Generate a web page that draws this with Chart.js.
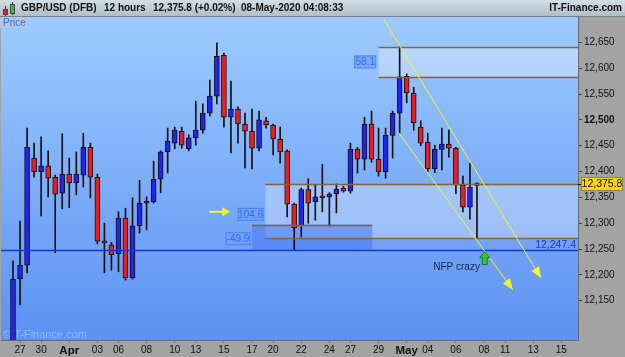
<!DOCTYPE html>
<html lang="en">
<head>
    <meta charset="UTF-8" />
    <title>GBP/USD (DFB) 12 hours</title>
    <style>
        html, body { margin: 0; padding: 0; background: #a3a3a3; }
        .wrap { position: relative; width: 625px; height: 357px; overflow: hidden; font-family: "Liberation Sans", Arial, sans-serif; }
        canvas { position: absolute; left: 0; top: 0; }
        .header { position: absolute; left: 0; top: 0; width: 625px; height: 17px; box-sizing: border-box;
                  background: linear-gradient(#d2dde4, #aebfca); border-bottom: 1px solid #70838f;
                  font-weight: bold; font-size: 10px; color: #111; }
        .header span { position: absolute; top: 2px; white-space: nowrap; }
        .icon div { position: absolute; }
        .tab { position: absolute; left: 0; top: 17px; width: 27px; height: 11px; box-sizing: border-box;
               background: #b4c9dd; color: #3a6be2; font-size: 10px; line-height: 11px; padding-left: 3px; }
    </style>
</head>
<body>
<div class="wrap">
    <canvas id="chart" width="625" height="357"></canvas>
    <div class="header">
        <div class="icon">
            <div style="left:5px;top:6px;width:1px;height:10px;background:#333"></div>
            <div style="left:3px;top:9px;width:5px;height:6px;background:#e02020;border:1px solid #444;box-sizing:border-box"></div>
            <div style="left:12px;top:2px;width:1px;height:13px;background:#333"></div>
            <div style="left:10px;top:4px;width:5px;height:10px;background:#22cc22;border:1px solid #444;box-sizing:border-box"></div>
        </div>
        <span style="left:21px">GBP/USD (DFB)</span>
        <span style="left:104px">12 hours</span>
        <span style="left:153px">12,375.8 (+0.02%)</span>
        <span style="left:241px">08-May-2020 04:08:33</span>
        <span style="right:3px">IT-Finance.com</span>
    </div>
    <div class="tab">Price</div>
</div>

<script src="https://cdn.jsdelivr.net/npm/chart.js@4.4.1/dist/chart.umd.min.js"></script>
<script>
    // 12 hour candles, one per index (26 Mar .. 08 May 2020)
    const open  = [12040, 12192, 12219, 12426, 12399, 12411, 12389, 12358, 12395, 12378,
                   12393, 12447, 12389, 12265, 12258, 12241, 12310, 12194, 12295, 12339,
                   12341, 12385, 12438, 12455, 12478, 12444, 12465, 12480, 12513, 12546,
                   12625, 12505, 12521, 12492, 12478, 12445, 12498, 12490, 12463, 12440,
                   12337, 12295, 12365, 12341, 12351, 12351, 12357, 12368, 12362, 12443,
                   12424, 12492, 12424, 12399, 12470, 12513, 12584, 12552, 12486, 12457,
                   12405, 12443, 12453, 12445, 12374, 12331, 12373];
    const high  = [12227, 12304, 12484, 12455, 12467, 12440, 12393, 12473, 12426, 12438,
                   12474, 12455, 12395, 12300, 12263, 12322, 12329, 12349, 12383, 12351,
                   12420, 12440, 12484, 12486, 12486, 12471, 12536, 12531, 12577, 12649,
                   12629, 12575, 12525, 12513, 12521, 12517, 12505, 12492, 12486, 12442,
                   12339, 12368, 12386, 12374, 12414, 12359, 12376, 12372, 12455, 12447,
                   12505, 12517, 12484, 12484, 12517, 12641.5, 12589, 12563, 12498, 12474,
                   12451, 12484, 12480, 12447, 12391, 12416, 12378];
    const low   = [12020, 12142, 12204, 12389, 12314, 12351, 12243, 12328, 12330, 12355,
                   12370, 12349, 12260, 12204, 12209, 12206, 12190, 12192, 12281, 12287,
                   12339, 12359, 12397, 12444, 12445, 12440, 12451, 12474, 12507, 12531,
                   12486, 12436, 12455, 12407, 12405, 12440, 12484, 12432, 12416, 12312,
                   12247.4, 12273, 12300, 12306, 12322, 12295, 12320, 12360, 12358, 12397,
                   12403, 12418, 12391, 12387, 12426, 12474, 12533, 12480, 12450, 12400,
                   12398, 12403, 12428, 12357, 12322, 12308, 12271.2];
    const close = [12192, 12219, 12447, 12399, 12411, 12387, 12356, 12395, 12378, 12395,
                   12447, 12389, 12265, 12262, 12239, 12310, 12194, 12295, 12339, 12341,
                   12385, 12438, 12459, 12480, 12451, 12465, 12480, 12513, 12546, 12623,
                   12505, 12521, 12492, 12478, 12445, 12500, 12490, 12463, 12438, 12337,
                   12291, 12365, 12339, 12351, 12349, 12357, 12366, 12362, 12443, 12424,
                   12492, 12424, 12399, 12470, 12513, 12583.4, 12552, 12494, 12455, 12405,
                   12443, 12453, 12445, 12374, 12331, 12370, 12375.8];

    const xTickPos    = [1, 4, 8, 12, 15, 19, 23, 26, 30, 34, 37, 41, 45, 48, 52, 56, 59, 63, 67, 70, 74, 78];
    const xTickLabels = ['27', '30', 'Apr', '03', '06', '08', '10', '13', '15', '17', '20',
                         '22', '24', '27', '29', 'May', '04', '06', '08', '11', '13', '15'];
    const yTicks = [12150, 12200, 12250, 12300, 12350, 12400, 12450, 12500, 12550, 12600, 12650];

    // drawn levels
    const lastPrice = 12375.8;
    const nfpLow = 12247.4;
    const lastLow = 12271.2;
    const topHigh = 12641.5;
    const topClose = 12583.4;
    const box2Top = 12297.3;

    const FONT = '"Liberation Sans", Arial, sans-serif';

    function fmt(v) {
        const s = v.toFixed(v % 1 ? 1 : 0);
        const [int, dec] = s.split('.');
        const t = int.slice(0, -3) + ',' + int.slice(-3);
        return dec ? t + '.' + dec : t;
    }

    function arrowHead(ctx, x1, y1, x2, y2, len, wid) {
        const dx = x2 - x1, dy = y2 - y1, d = Math.hypot(dx, dy);
        const ux = dx / d, uy = dy / d;
        const bx = x2 - ux * len, by = y2 - uy * len;
        ctx.beginPath();
        ctx.moveTo(x2, y2);
        ctx.lineTo(bx - uy * wid / 2, by + ux * wid / 2);
        ctx.lineTo(bx + uy * wid / 2, by - ux * wid / 2);
        ctx.closePath();
        ctx.fill();
    }

    function valueBox(ctx, text, cx, cy, w) {
        ctx.fillStyle = 'rgba(110,160,255,0.75)';
        ctx.strokeStyle = '#4f82ee';
        ctx.lineWidth = 1;
        ctx.fillRect(cx - w / 2, cy - 6.5, w, 13);
        ctx.strokeRect(cx - w / 2 + 0.5, cy - 6, w - 1, 12);
        ctx.fillStyle = '#3a6be6';
        ctx.font = '10px ' + FONT;
        ctx.textAlign = 'center';
        ctx.textBaseline = 'middle';
        ctx.fillText(text, cx, cy + 0.5);
    }

    const drawings = {
        id: 'drawings',
        beforeDraw(chart) {
            const { ctx, chartArea: a } = chart;
            ctx.save();
            ctx.fillStyle = '#a3a3a3';
            ctx.fillRect(0, 0, chart.width, chart.height);
            const g = ctx.createLinearGradient(0, a.top, 0, a.bottom);
            g.addColorStop(0, '#9dcbff');
            g.addColorStop(1, '#5d91f2');
            ctx.fillStyle = g;
            ctx.fillRect(a.left, a.top, a.right - a.left, a.bottom - a.top);
            ctx.restore();
        },
        beforeDatasetsDraw(chart) {
            const { ctx, chartArea: a, scales: { x, y } } = chart;
            ctx.save();
            // watermark
            ctx.fillStyle = 'rgba(150,190,255,0.85)';
            ctx.font = '11px ' + FONT;
            ctx.textBaseline = 'alphabetic';
            ctx.fillText('\u00a9IT-Finance.com', 3, a.bottom - 2);
            // boxes
            ctx.fillStyle = 'rgba(255,255,255,0.3)';
            ctx.fillRect(x.getPixelForValue(52), y.getPixelForValue(topHigh),
                a.right - x.getPixelForValue(52), y.getPixelForValue(topClose) - y.getPixelForValue(topHigh));
            ctx.fillRect(x.getPixelForValue(35.9), y.getPixelForValue(lastPrice),
                a.right - x.getPixelForValue(35.9), y.getPixelForValue(lastLow) - y.getPixelForValue(lastPrice));
            ctx.fillStyle = 'rgba(70,115,245,0.5)';
            ctx.fillRect(x.getPixelForValue(34), y.getPixelForValue(box2Top),
                x.getPixelForValue(51.1) - x.getPixelForValue(34), y.getPixelForValue(nfpLow) - y.getPixelForValue(box2Top));
            ctx.restore();
        },
        afterDatasetsDraw(chart) {
            const { ctx, chartArea: a, scales: { x, y } } = chart;
            ctx.save();
            ctx.beginPath();
            ctx.rect(a.left, a.top, a.right - a.left, a.bottom - a.top);
            ctx.clip();

            // brown levels
            ctx.strokeStyle = '#86623f';
            ctx.lineWidth = 1.5;
            const hline = (from, to, v) => {
                const py = Math.round(y.getPixelForValue(v)) + 0.5;
                ctx.beginPath();
                ctx.moveTo(from, py);
                ctx.lineTo(to, py);
                ctx.stroke();
            };
            hline(x.getPixelForValue(52), a.right, topHigh);
            hline(x.getPixelForValue(52), a.right, topClose);
            hline(x.getPixelForValue(35.9), a.right, lastPrice);
            hline(x.getPixelForValue(35.9), a.right, lastLow);
            hline(x.getPixelForValue(34), x.getPixelForValue(51.1), box2Top);

            // blue low line
            ctx.strokeStyle = '#1636e4';
            hline(a.left, a.right, nfpLow);
            ctx.fillStyle = '#1636e4';
            ctx.font = '10.5px ' + FONT;
            ctx.textAlign = 'right';
            ctx.textBaseline = 'alphabetic';
            ctx.fillText(fmt(nfpLow), a.right - 2, y.getPixelForValue(nfpLow) - 2);

            // yellow trend lines
            ctx.strokeStyle = '#f4f42a';
            ctx.fillStyle = '#f4f42a';
            ctx.lineWidth = 1;
            const trend = [[52.8, 12693, 75.1, 12194], [54.8, 12476, 71.1, 12171]];
            trend.forEach(t => {
                const x1 = x.getPixelForValue(t[0]), y1 = y.getPixelForValue(t[1]);
                const x2 = x.getPixelForValue(t[2]), y2 = y.getPixelForValue(t[3]);
                ctx.beginPath();
                ctx.moveTo(x1, y1);
                ctx.lineTo(x2, y2);
                ctx.stroke();
                arrowHead(ctx, x1, y1, x2, y2, 11, 9);
            });

            // small yellow arrow
            const ay = y.getPixelForValue(12322);
            const ax1 = x.getPixelForValue(27.9), ax2 = x.getPixelForValue(30.9);
            ctx.lineWidth = 2;
            ctx.beginPath();
            ctx.moveTo(ax1, ay);
            ctx.lineTo(ax2 - 6, ay);
            ctx.stroke();
            arrowHead(ctx, ax1, ay, ax2, ay, 8, 9);

            // green up arrow
            const gx = x.getPixelForValue(67.1);
            const gt = y.getPixelForValue(12245), gb = y.getPixelForValue(12220);
            ctx.beginPath();
            ctx.moveTo(gx, gt);
            ctx.lineTo(gx + 5, gt + 6);
            ctx.lineTo(gx + 2.5, gt + 6);
            ctx.lineTo(gx + 2.5, gb);
            ctx.lineTo(gx - 2.5, gb);
            ctx.lineTo(gx - 2.5, gt + 6);
            ctx.lineTo(gx - 5, gt + 6);
            ctx.closePath();
            ctx.fillStyle = '#2ecb2e';
            ctx.fill();
            ctx.strokeStyle = '#167a16';
            ctx.lineWidth = 1;
            ctx.stroke();

            // note
            ctx.fillStyle = '#17254a';
            ctx.font = '10px ' + FONT;
            ctx.textAlign = 'center';
            ctx.textBaseline = 'middle';
            ctx.fillText('NFP crazy', x.getPixelForValue(63.1), y.getPixelForValue(12215));

            // range values
            valueBox(ctx, '58.1', x.getPixelForValue(50.1), y.getPixelForValue(12612), 22);
            valueBox(ctx, '104.6', x.getPixelForValue(33.8), y.getPixelForValue(12317), 26);
            valueBox(ctx, '-49.9', x.getPixelForValue(32), y.getPixelForValue(12270), 25);
            ctx.restore();
        },
        afterDraw(chart) {
            const { ctx, chartArea: a, scales: { y } } = chart;
            const py = Math.round(y.getPixelForValue(lastPrice));
            ctx.save();
            ctx.fillStyle = '#111';
            ctx.fillRect(a.right, py, 3, 1);
            ctx.fillStyle = '#ffd400';
            ctx.fillRect(a.right + 3, py - 7, 42, 14);
            ctx.strokeStyle = '#8a8560';
            ctx.lineWidth = 1;
            ctx.strokeRect(a.right + 3.5, py - 6.5, 41, 13);
            ctx.fillStyle = '#111';
            ctx.font = '10.5px ' + FONT;
            ctx.textAlign = 'center';
            ctx.textBaseline = 'middle';
            ctx.fillText(fmt(lastPrice), a.right + 24, py + 0.5);
            ctx.restore();
        }
    };

    const idx = open.map((_, i) => i);

    new Chart(document.getElementById('chart'), {
        type: 'bar',
        data: {
            datasets: [
                {
                    // bodies
                    data: idx.map(i => ({ x: i, y: [open[i], close[i]] })),
                    backgroundColor: idx.map(i => close[i] >= open[i] ? '#2323ee' : '#ee1d1d'),
                    borderColor: '#111',
                    borderWidth: 1,
                    borderSkipped: false,
                    barThickness: 5,
                    minBarLength: 2,
                    grouped: false,
                    order: 1
                },
                {
                    // wicks
                    data: idx.map(i => ({ x: i, y: [low[i], high[i]] })),
                    backgroundColor: '#111',
                    barThickness: 1,
                    grouped: false,
                    order: 2
                }
            ]
        },
        options: {
            responsive: false,
            animation: false,
            layout: { padding: { top: 17, left: 1, right: 0, bottom: 0 } },
            plugins: { legend: { display: false }, tooltip: { enabled: false } },
            scales: {
                x: {
                    type: 'linear',
                    min: -1.71,
                    max: 80.37,
                    offset: false,
                    grid: { offset: false, drawOnChartArea: false, tickLength: 3, color: '#5d8796' },
                    border: { color: '#6a6a6a' },
                    afterBuildTicks: s => { s.ticks = xTickPos.map(v => ({ value: v })); },
                    afterFit: s => { s.height = 17; s.paddingLeft = 0; s.paddingRight = 0; },
                    ticks: {
                        autoSkip: false,
                        maxRotation: 0,
                        padding: 1,
                        color: '#111',
                        font: c => {
                            const l = xTickLabels[c.index];
                            return (l === 'Apr' || l === 'May')
                                ? { family: FONT, size: 11.5, weight: 'bold' }
                                : { family: FONT, size: 10 };
                        },
                        callback: (v, i) => xTickLabels[i]
                    }
                },
                y: {
                    position: 'right',
                    min: 12074,
                    max: 12699,
                    grid: { drawOnChartArea: false, tickLength: 4, color: '#444' },
                    border: { color: '#6a6a6a' },
                    afterBuildTicks: s => { s.ticks = yTicks.map(v => ({ value: v })); },
                    afterFit: s => { s.width = 47; s.paddingTop = 0; s.paddingBottom = 0; },
                    ticks: {
                        padding: 2,
                        color: '#111',
                        font: c => ({ family: FONT, size: 10, weight: c.tick && c.tick.value === 12500 ? 'bold' : 'normal' }),
                        callback: v => fmt(v)
                    }
                }
            }
        },
        plugins: [drawings]
    });
</script>
</body>
</html>
